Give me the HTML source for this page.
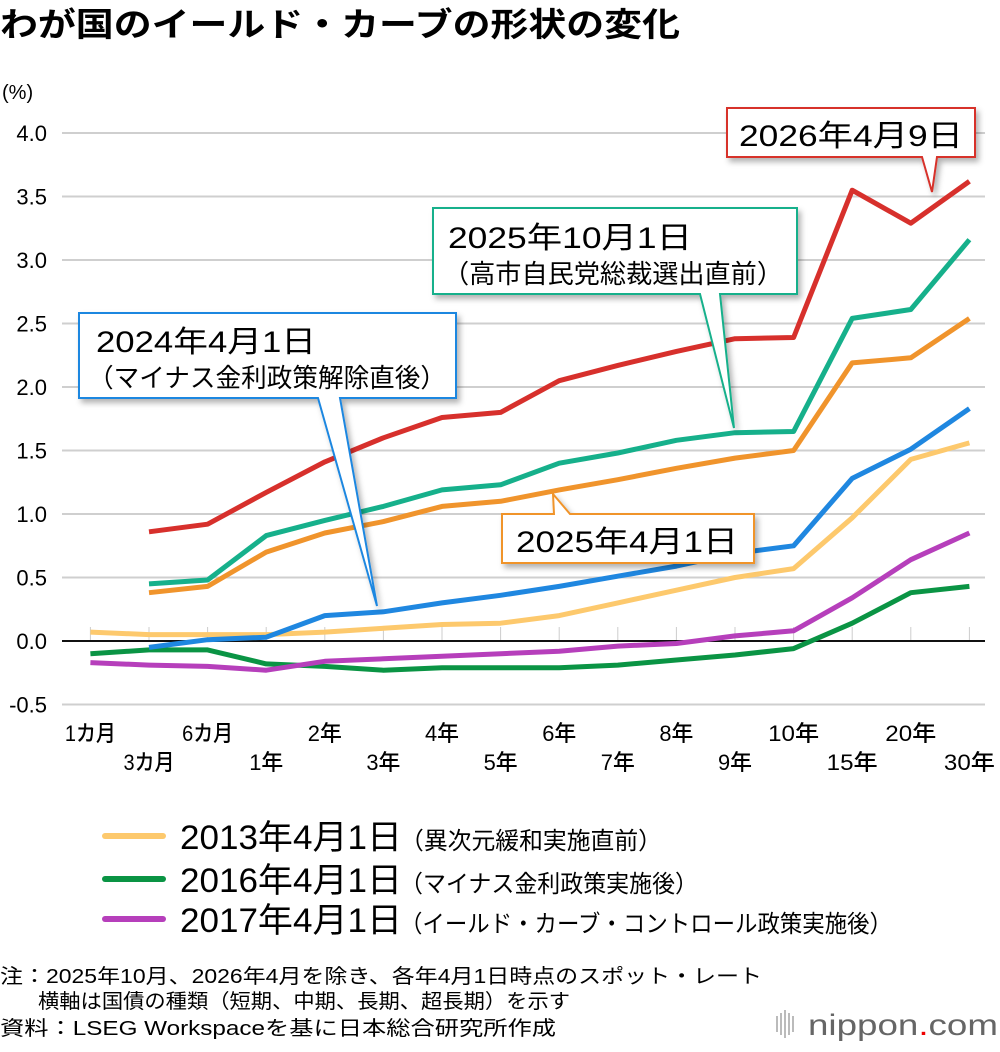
<!DOCTYPE html>
<html><head><meta charset="utf-8"><style>
html,body{margin:0;padding:0;background:#fff;}
svg{display:block;font-family:"Liberation Sans","Noto Sans CJK JP",sans-serif;}
</style></head><body>
<svg id="chart" width="1000" height="1052" viewBox="0 0 1000 1052" xmlns="http://www.w3.org/2000/svg">
<defs><filter id="sh" x="-10%" y="-10%" width="130%" height="140%"><feDropShadow dx="3" dy="4" stdDeviation="3" flood-color="#000" flood-opacity="0.3"/></filter></defs>
<text x="0" y="36" font-size="33" font-weight="bold" textLength="680" lengthAdjust="spacingAndGlyphs">わが国のイールド・カーブの形状の変化</text>
<text x="2" y="99" font-size="20">(%)</text>
<g id="grid"></g>
<g id="axes"></g>
<g id="series"></g>
<g id="callouts">
  <g filter="url(#sh)">
    <path d="M727,108 H975 V157 H937 L932,192 L922,157 H727 Z" fill="#fff" stroke="#d7302c" stroke-width="2"/>
  </g>
  <text x="739" y="146" font-size="30" textLength="224" lengthAdjust="spacingAndGlyphs">2026年4月9日</text>
  <g filter="url(#sh)">
    <path d="M433,208 H797 V294 H720 L734,428 L700,294 H433 Z" fill="#fff" stroke="#16b08b" stroke-width="2"/>
  </g>
  <text x="448" y="248" font-size="30" textLength="244" lengthAdjust="spacingAndGlyphs">2025年10月1日</text>
  <text x="443" y="283" font-size="26" textLength="340" lengthAdjust="spacingAndGlyphs">（高市自民党総裁選出直前）</text>
  <g filter="url(#sh)">
    <path d="M79,313 H456 V398 H340 L377,606 L318,398 H79 Z" fill="#fff" stroke="#1f87e0" stroke-width="2"/>
  </g>
  <text x="96" y="352" font-size="30" textLength="220" lengthAdjust="spacingAndGlyphs">2024年4月1日</text>
  <text x="88" y="387" font-size="26" textLength="358" lengthAdjust="spacingAndGlyphs">（マイナス金利政策解除直後）</text>
  <g filter="url(#sh)">
    <path d="M502,514 H554 L553,494 L570,514 H754 V563 H502 Z" fill="#fff" stroke="#f0942c" stroke-width="2"/>
  </g>
  <text x="516" y="552" font-size="30" textLength="222" lengthAdjust="spacingAndGlyphs">2025年4月1日</text>
</g>
<g>
  <line x1="105" y1="836" x2="163" y2="836" stroke="#fdc96d" stroke-width="6" stroke-linecap="round"/>
  <text x="180" y="849" font-size="34"><tspan textLength="222" lengthAdjust="spacingAndGlyphs">2013年4月1日</tspan><tspan font-size="24" x="400" textLength="262" lengthAdjust="spacingAndGlyphs">（異次元緩和実施直前）</tspan></text>
  <line x1="105" y1="879" x2="163" y2="879" stroke="#0a9444" stroke-width="6" stroke-linecap="round"/>
  <text x="180" y="892" font-size="34"><tspan textLength="222" lengthAdjust="spacingAndGlyphs">2016年4月1日</tspan><tspan font-size="24" x="400" textLength="298" lengthAdjust="spacingAndGlyphs">（マイナス金利政策実施後）</tspan></text>
  <line x1="105" y1="919" x2="163" y2="919" stroke="#b63fbb" stroke-width="6" stroke-linecap="round"/>
  <text x="180" y="932" font-size="34"><tspan textLength="222" lengthAdjust="spacingAndGlyphs">2017年4月1日</tspan><tspan font-size="24" x="400" textLength="492" lengthAdjust="spacingAndGlyphs">（イールド・カーブ・コントロール政策実施後）</tspan></text>
</g>
<g font-size="20">
  <text x="0" y="983" textLength="762" lengthAdjust="spacingAndGlyphs">注：2025年10月、2026年4月を除き、各年4月1日時点のスポット・レート</text>
  <text x="38" y="1008" textLength="532" lengthAdjust="spacingAndGlyphs">横軸は国債の種類（短期、中期、長期、超長期）を示す</text>
  <text x="0" y="1035" textLength="556" lengthAdjust="spacingAndGlyphs">資料：LSEG Workspaceを基に日本総合研究所作成</text>
</g>
<g>
  <g fill="#bbb"><rect x="776" y="1016" width="2" height="16"/><rect x="780" y="1013" width="2" height="22"/><rect x="784" y="1010" width="2" height="28"/><rect x="788" y="1013" width="2" height="22"/><rect x="792" y="1016" width="2" height="16"/></g>
  <text x="808" y="1035" font-size="30" fill="#666" textLength="190" lengthAdjust="spacingAndGlyphs">nippon<tspan fill="#e00">.</tspan>com</text>
</g>
</svg>
<script>
const categories = ["1カ月","3カ月","6カ月","1年","2年","3年","4年","5年","6年","7年","8年","9年","10年","15年","20年","30年"];
const yTicks = [4.0,3.5,3.0,2.5,2.0,1.5,1.0,0.5,0.0,-0.5];
const yTickLabels = ["4.0","3.5","3.0","2.5","2.0","1.5","1.0","0.5","0.0","-0.5"];
const s2013 = [0.07,0.05,0.05,0.05,0.07,0.10,0.13,0.14,0.20,0.30,0.40,0.50,0.57,0.97,1.43,1.56];
const s2016 = [-0.10,-0.07,-0.07,-0.18,-0.20,-0.23,-0.21,-0.21,-0.21,-0.19,-0.15,-0.11,-0.06,0.14,0.38,0.43];
const s2017 = [-0.17,-0.19,-0.20,-0.23,-0.16,-0.14,-0.12,-0.10,-0.08,-0.04,-0.02,0.04,0.08,0.34,0.64,0.85];
const s2024 = [null,-0.05,0.01,0.03,0.20,0.23,0.30,0.36,0.43,0.51,0.59,0.69,0.75,1.28,1.51,1.83];
const s2025apr = [null,0.38,0.43,0.70,0.85,0.94,1.06,1.10,1.19,1.27,1.36,1.44,1.50,2.19,2.23,2.54];
const s2025oct = [null,0.45,0.48,0.83,0.95,1.06,1.19,1.23,1.40,1.48,1.58,1.64,1.65,2.54,2.61,3.16];
const s2026 = [null,0.86,0.92,1.17,1.41,1.60,1.76,1.80,2.05,2.17,2.28,2.38,2.39,3.55,3.29,3.62];

const NS="http://www.w3.org/2000/svg";
const xScale = i => 90.4 + i*58.6;
const yScale = v => 641 - v*127;
const grid=document.getElementById('grid'), axes=document.getElementById('axes'), series=document.getElementById('series');
yTicks.forEach((t,k)=>{
  const l=document.createElementNS(NS,'line');
  
  
  l.setAttribute('x1',62);l.setAttribute('x2',985);
  l.setAttribute('y1',yScale(t));l.setAttribute('y2',yScale(t));
  l.setAttribute('stroke',t===0?'#111':'#cfcfcf');l.setAttribute('stroke-width',2);
  (t===0?axes:grid).appendChild(l);
  const tx=document.createElementNS(NS,'text');
  
  
  tx.setAttribute('x',47);tx.setAttribute('y',yScale(t)+8);tx.setAttribute('text-anchor','end');
  tx.setAttribute('font-size','22');tx.textContent=yTickLabels[k];
  axes.appendChild(tx);
});
categories.forEach((c,i)=>{
  const tk=document.createElementNS(NS,'line');
  
  
  tk.setAttribute('x1',xScale(i));tk.setAttribute('x2',xScale(i));
  tk.setAttribute('y1',yScale(0)-14);tk.setAttribute('y2',yScale(0));
  tk.setAttribute('stroke','#ccc');tk.setAttribute('stroke-width',1);
  grid.appendChild(tk);
  const tx=document.createElementNS(NS,'text');
  
  
  tx.setAttribute('x',xScale(i));tx.setAttribute('y',i%2===0?741:770);
  tx.setAttribute('text-anchor','middle');tx.setAttribute('font-size','22');tx.setAttribute('font-weight','500');
  tx.setAttribute('textLength', c.length*17);tx.setAttribute('lengthAdjust','spacingAndGlyphs');
  tx.textContent=c;
  axes.appendChild(tx);
});
const defs=[[s2013,'#fdc96d','line-2013'],[s2016,'#0a9444','line-2016'],[s2017,'#b63fbb','line-2017'],[s2024,'#1f87e0','line-2024'],[s2025apr,'#f0942c','line-2025-04'],[s2025oct,'#16b08b','line-2025-10'],[s2026,'#d7302c','line-2026']];
defs.forEach(([arr,col,name])=>{
  const pts=[];arr.forEach((v,i)=>{if(v!==null)pts.push(xScale(i).toFixed(1)+','+yScale(v).toFixed(1));});
  const p=document.createElementNS(NS,'polyline');
  
  
  p.setAttribute('points',pts.join(' '));p.setAttribute('fill','none');
  p.setAttribute('stroke',col);p.setAttribute('stroke-width',5);p.setAttribute('stroke-linejoin','round');
  series.appendChild(p);
});
</script>
</body></html>
